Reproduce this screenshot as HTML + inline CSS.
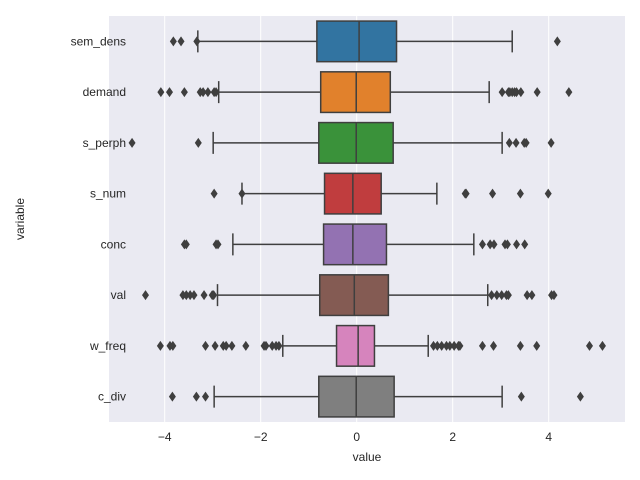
<!DOCTYPE html>
<html><head><meta charset="utf-8"><style>
html,body{margin:0;padding:0;background:#fff;}
svg{display:block;font-family:"Liberation Sans","DejaVu Sans",sans-serif;}
</style></head><body>
<svg id="chart" width="640" height="480" viewBox="0 0 640 480">
<rect x="109" y="16" width="516" height="406" fill="#eaeaf2"/>
<g id="grid"></g><g id="boxes"></g><g id="labels"></g>
<text x="367" y="461" font-size="12" fill="#262626" text-anchor="middle">value</text>
<text x="0" y="0" font-size="12" fill="#262626" text-anchor="middle" transform="translate(24,219) rotate(-90)">variable</text>
</svg>
<script>
const categories=["sem_dens","demand","s_perph","s_num","conc","val","w_freq","c_div"];
const colors=["#3274a1","#e1812c","#3a923a","#c03d3e","#9372b2","#845b53","#d684bd","#7f7f7f"];
const q1=[-0.83,-0.75,-0.79,-0.67,-0.69,-0.77,-0.42,-0.79];
const medians=[0.05,-0.01,-0.01,-0.08,-0.08,-0.05,0.03,-0.01];
const q3=[0.83,0.70,0.76,0.51,0.62,0.66,0.37,0.78];
const whiskLo=[-3.31,-2.875,-2.99,-2.39,-2.58,-2.9,-1.54,-2.97];
const whiskHi=[3.24,2.76,3.03,1.67,2.44,2.73,1.49,3.03];
const outliers=[
 [-3.82,-3.66,-3.33,4.18],
 [-4.08,-3.9,-3.59,-3.26,-3.2,-3.1,-2.97,-2.93,3.03,3.16,3.19,3.24,3.29,3.33,3.42,3.76,4.42],
 [-4.68,-3.3,3.18,3.32,3.49,3.53,4.05],
 [-2.97,-2.39,2.26,2.28,2.83,3.41,3.99],
 [-3.59,-3.55,-2.93,-2.89,2.62,2.78,2.86,3.09,3.14,3.33,3.5],
 [-4.4,-3.62,-3.55,-3.47,-3.39,-3.18,-3.01,-2.98,2.81,2.92,3.02,3.12,3.16,3.55,3.65,4.06,4.11],
 [-4.09,-3.89,-3.83,-3.15,-2.95,-2.78,-2.72,-2.6,-2.31,-1.93,-1.89,-1.76,-1.68,-1.62,1.6,1.68,1.77,1.87,1.94,2.03,2.12,2.15,2.62,2.85,3.41,3.75,4.85,5.12],
 [-3.84,-3.34,-3.15,3.43,4.66]
];
const xTicks=[-4,-2,0,2,4];
const xTickLabels=["\u22124","\u22122","0","2","4"];
const NS="http://www.w3.org/2000/svg";
const top0=16,rowH=406/categories.length;
function xs(v){return 356.7+v*48;}
function yc(i){return top0+rowH*(i+0.5);}
function mk(tag,attrs,parent){const e=document.createElementNS(NS,tag);for(const k in attrs)e.setAttribute(k,attrs[k]);parent.appendChild(e);return e;}
const grid=document.getElementById('grid'),boxes=document.getElementById('boxes'),labels=document.getElementById('labels');
xTicks.forEach((t,i)=>{
 const l=mk('line',{x1:xs(t),x2:xs(t),y1:16,y2:422,stroke:'#fff','stroke-width':1},grid);
 
 
 const tx=mk('text',{x:xs(t),y:441,'font-size':12,fill:'#262626','text-anchor':'middle'},labels);
 tx.textContent=xTickLabels[i];
 
 
});
const ec='#3f3f3f',hb=rowH*0.4;
categories.forEach((c,i)=>{
 const y=yc(i);
 const g=mk('g',{},boxes);
 
 
 mk('line',{x1:xs(whiskLo[i]),x2:xs(q1[i]),y1:y,y2:y,stroke:ec,'stroke-width':1.5},g);
 mk('line',{x1:xs(q3[i]),x2:xs(whiskHi[i]),y1:y,y2:y,stroke:ec,'stroke-width':1.5},g);
 mk('line',{x1:xs(whiskLo[i]),x2:xs(whiskLo[i]),y1:y-11,y2:y+11,stroke:ec,'stroke-width':1.5},g);
 mk('line',{x1:xs(whiskHi[i]),x2:xs(whiskHi[i]),y1:y-11,y2:y+11,stroke:ec,'stroke-width':1.5},g);
 mk('rect',{x:xs(q1[i]),y:y-hb,width:xs(q3[i])-xs(q1[i]),height:hb*2,fill:colors[i],stroke:ec,'stroke-width':1.5},g);
 mk('line',{x1:xs(medians[i]),x2:xs(medians[i]),y1:y-hb,y2:y+hb,stroke:ec,'stroke-width':1.5},g);
 outliers[i].forEach(v=>{
  const x=xs(v);
  const p=mk('polygon',{points:`${x},${y-5} ${x+3.5},${y} ${x},${y+5} ${x-3.5},${y}`,fill:ec},g);
  
  
 });
 const t=mk('text',{x:126,y:y+4,'font-size':12,fill:'#262626','text-anchor':'end'},labels);
 t.textContent=c;
 
 
});
</script>
</body></html>
